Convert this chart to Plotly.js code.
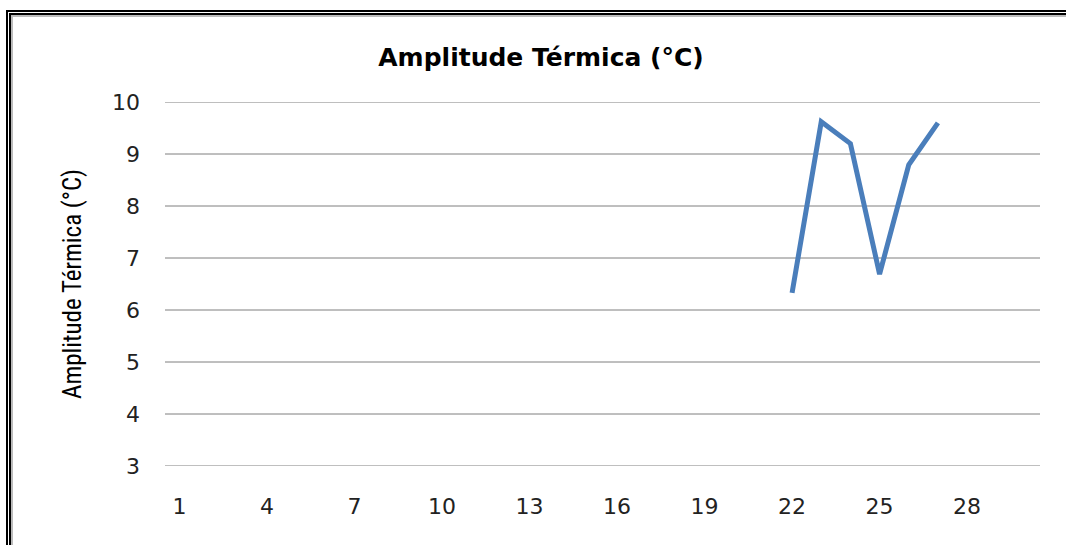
<!DOCTYPE html>
<html><head><meta charset="utf-8">
<script src="https://cdn.plot.ly/plotly-3.0.1.min.js"></script>
<style>
html,body{margin:0;padding:0;background:#fff;overflow:hidden;}
#chart{width:1066px;height:545px;}
.frame{position:absolute;pointer-events:none;}
</style></head>
<body>
<div id="chart"></div>
<div class="frame" style="left:6px;top:10px;width:1200px;height:700px;border-top:2px solid #000;border-left:2px solid #000;"></div>
<div class="frame" style="left:9px;top:13px;width:1200px;height:700px;border-top:2px solid #000;border-left:2px solid #000;"></div>
<div class="frame" style="left:11px;top:15px;width:1200px;height:700px;border-top:2px solid #bbb;border-left:2px solid #bbb;"></div>
<script>
const categories = [];
for (let i = 1; i <= 30; i++) categories.push(i);
const days = [22, 23, 24, 25, 26, 27];
const amplitude = [6.33, 9.62, 9.2, 6.69, 8.79, 9.6];
const tickVals = [1, 4, 7, 10, 13, 16, 19, 22, 25, 28];
const yTicks = [3, 4, 5, 6, 7, 8, 9, 10];
const titleText = 'Amplitude Térmica (°C)';

const data = [{
  x: days, y: amplitude, type: 'scatter', mode: 'lines',
  line: {color: '#4a7ebb', width: 5}, hoverinfo: 'none'
}];
const gridShapes = yTicks.map(v => ({
  type: 'line', xref: 'paper', yref: 'y', x0: 0, x1: 1, y0: v, y1: v,
  line: {color: '#7f7f7f', width: 1}, layer: 'below'
}));
const tickFont = {family: 'DejaVu Sans, sans-serif', size: 22, color: '#222'};
const layout = {
  width: 1066, height: 545,
  margin: {l: 165, r: 26, t: 102, b: 79},
  paper_bgcolor: '#fff', plot_bgcolor: '#fff',
  showlegend: false,
  font: {family: 'DejaVu Sans, sans-serif', color: '#222', size: 20},
  title: {text: '<b>' + titleText + '</b>', x: 541 / 1066, xref: 'container', xanchor: 'center', y: 0.895, yanchor: 'middle',
          font: {family: 'DejaVu Sans, sans-serif', size: 25, color: '#000'}},
  xaxis: {range: [0.5, 30.5], tickvals: tickVals, ticktext: tickVals.map(String), showgrid: false, tickfont: tickFont,
          zeroline: false, showline: false, ticks: '', ticklabelstandoff: 25, fixedrange: true},
  yaxis: {range: [3, 10], tickvals: yTicks, showgrid: false, tickfont: tickFont,
          zeroline: false, showline: false, ticks: '', ticklabelstandoff: 24, fixedrange: true},
  shapes: gridShapes,
  annotations: [{text: titleText, xref: 'paper', yref: 'paper', x: (72 - 165) / 875, y: 0.5,
                 xanchor: 'center', yanchor: 'middle', textangle: -90, showarrow: false,
                 font: {family: 'Liberation Sans Narrow, Roboto Condensed, Roboto, sans-serif', size: 25, color: '#000'}}]
};
Plotly.newPlot('chart', data, layout, {displayModeBar: false, staticPlot: true});
</script>
</body></html>
